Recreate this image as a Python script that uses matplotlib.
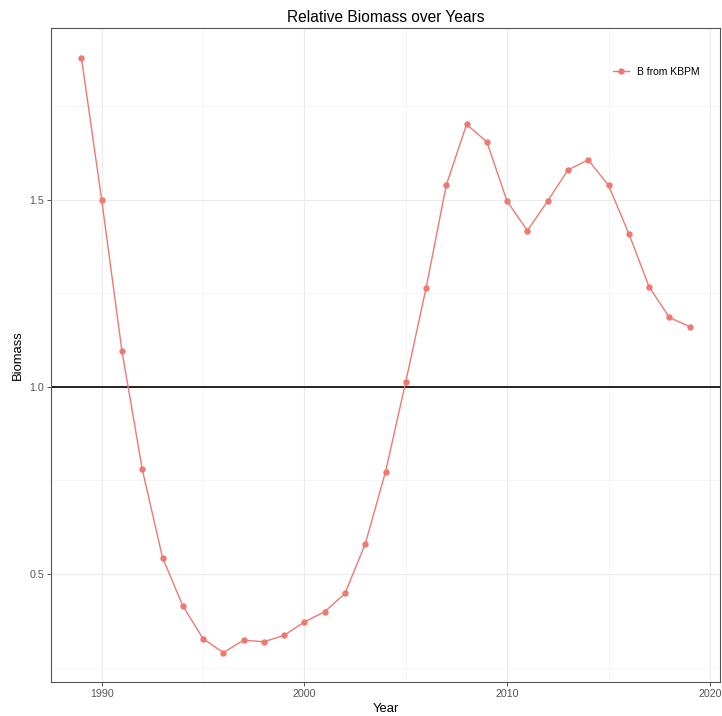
import matplotlib
matplotlib.use('Agg')
import matplotlib.pyplot as plt
import numpy as np

plt.rcParams['font.family'] = ['Liberation Sans', 'DejaVu Sans']

# Relative Biomass (B from KBPM)
years = np.arange(1989, 2020)
biomass = [1.880, 1.500, 1.096, 0.780, 0.544, 0.415, 0.327, 0.290, 0.323, 0.319,
           0.336, 0.372, 0.399, 0.448, 0.580, 0.773, 1.014, 1.264, 1.540, 1.702,
           1.655, 1.496, 1.418, 1.497, 1.580, 1.607, 1.539, 1.410, 1.268, 1.186, 1.161]
series_label = 'B from KBPM'
x_major = [1990, 2000, 2010, 2020]
x_minor = [1995, 2005, 2015]
y_major = [0.5, 1.0, 1.5]
y_minor = [0.25, 0.75, 1.25, 1.75]

fig = plt.figure(figsize=(7.22, 7.16), dpi=100)
ax = fig.add_axes([51/722, 1 - 682.3/716, 669/722, 654.3/716])

# ggplot-style Expansion (5 %)
xr = years.max() - years.min()
ax.set_xlim(years.min() - 0.05 * xr, years.max() + 0.05 * xr)
yr = max(biomass) - min(biomass)
ax.set_ylim(min(biomass) - 0.05 * yr, max(biomass) + 0.05 * yr)

# Gitterlinien
ax.set_xticks(x_major)
ax.set_xticks(x_minor, minor=True)
ax.set_yticks(y_major)
ax.set_yticks(y_minor, minor=True)
ax.set_yticklabels([f'{v:.1f}' for v in y_major])
ax.grid(which='major', color='#EBEBEB', linewidth=0.8)
ax.grid(which='minor', color='#F2F2F2', linewidth=0.5)
ax.set_axisbelow(True)

ax.tick_params(which='major', length=3, width=0.7, color='#555555',
               labelsize=7.7, labelcolor='#555555', pad=2)
ax.tick_params(which='minor', length=0)

for sp in ax.spines.values():
    sp.set_color('#555555')
    sp.set_linewidth(0.8)

ax.axhline(1.0, color='black', linewidth=1.2, zorder=2)
ax.plot(years, biomass, color='#EC7A72', linewidth=1.0, marker='o',
        markersize=3.6, label=series_label, zorder=3)

ax.set_title('Relative Biomass over Years', fontsize=11.2, pad=4)
ax.set_xlabel('Year', fontsize=9.4, labelpad=3)
ax.set_ylabel('Biomass', fontsize=9.4, labelpad=4)

ax.legend(loc='center right', bbox_to_anchor=(0.97, 0.933), frameon=False,
          fontsize=7.5, handlelength=1.5, handletextpad=0.8, borderpad=0,
          borderaxespad=0)

plt.savefig('out.png', dpi=100)
